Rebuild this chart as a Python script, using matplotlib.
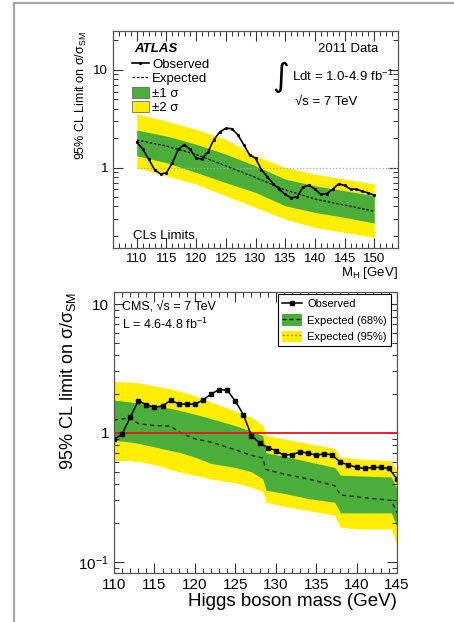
import numpy as np
import matplotlib
matplotlib.use("Agg")
import matplotlib.pyplot as plt
import matplotlib.ticker as mticker
from matplotlib.lines import Line2D
from matplotlib.patches import Patch

plt.rcParams["font.family"] = ["Liberation Sans", "DejaVu Sans"]
plt.rcParams["mathtext.fontset"] = "custom"
plt.rcParams["mathtext.rm"] = "Liberation Sans"
plt.rcParams["mathtext.it"] = "Liberation Sans:italic"
plt.rcParams["mathtext.bf"] = "Liberation Sans:bold"
plt.rcParams["mathtext.default"] = "regular"

GREEN = "#4cae3a"
YELLOW = "#ffee00"

# ── ATLAS 2011 combined limit ─────────────────────────────────────────
atlas_mass = [110, 111, 112, 113, 114, 115, 116, 117, 118, 119, 120, 121, 122, 123,
              124, 125, 126, 127, 128, 129, 130, 131, 132, 133, 134, 135, 136, 137,
              138, 139, 140, 141, 142, 143, 144, 145, 146, 147, 148, 149, 150]
atlas_obs = [1.82, 1.55, 1.22, 0.95, 0.86, 0.88, 1.12, 1.53, 1.72, 1.53, 1.25, 1.22,
             1.45, 1.93, 2.32, 2.52, 2.50, 2.17, 1.72, 1.35, 1.24, 0.95, 0.80, 0.68,
             0.60, 0.53, 0.49, 0.50, 0.63, 0.66, 0.60, 0.53, 0.54, 0.60, 0.68, 0.655,
             0.60, 0.60, 0.57, 0.55, 0.52]

atlas_band_mass = [110, 115, 120, 125, 130, 135, 140, 145, 150]
atlas_exp = [1.91, 1.66, 1.36, 1.04, 0.79, 0.59, 0.475, 0.413, 0.356]
atlas_p1 = [2.42, 2.10, 1.73, 1.37, 1.04, 0.76, 0.65, 0.578, 0.514]
atlas_m1 = [1.32, 1.12, 0.89, 0.70, 0.556, 0.406, 0.347, 0.309, 0.27]
atlas_p2 = [3.56, 2.99, 2.46, 1.95, 1.32, 1.00, 0.855, 0.76, 0.676]
atlas_m2 = [1.00, 0.82, 0.676, 0.514, 0.39, 0.297, 0.244, 0.217, 0.193]

# ── CMS 2011 combined limit ───────────────────────────────────────────
cms_mass = list(range(110, 146))
cms_obs = [0.89, 0.98, 1.32, 1.77, 1.66, 1.58, 1.62, 1.79, 1.68, 1.67, 1.67, 1.80,
           2.00, 2.17, 2.14, 1.77, 1.39, 0.95, 0.84, 0.77, 0.73, 0.67, 0.68, 0.71,
           0.70, 0.67, 0.69, 0.675, 0.59, 0.567, 0.54, 0.53, 0.54, 0.54, 0.53, 0.44]

cms_band_mass = [110, 112, 113, 115, 117, 118, 120, 122, 125, 127, 128.4, 128.8,
                 131, 134, 137.3, 138, 140, 142, 144.3, 145]
cms_exp = [1.26, 1.31, 1.18, 1.14, 1.13, 1.02, 0.90, 0.85, 0.74, 0.67, 0.64, 0.52,
           0.48, 0.44, 0.39, 0.33, 0.32, 0.31, 0.30, 0.24]
cms_p1 = [1.80, 1.74, 1.70, 1.62, 1.55, 1.50, 1.40, 1.29, 1.14, 1.03, 0.95, 0.70,
          0.66, 0.60, 0.54, 0.47, 0.465, 0.46, 0.455, 0.37]
cms_m1 = [0.88, 0.85, 0.83, 0.78, 0.73, 0.71, 0.65, 0.58, 0.54, 0.50, 0.44, 0.36,
          0.34, 0.31, 0.29, 0.24, 0.24, 0.24, 0.24, 0.186]
cms_p2 = [2.50, 2.48, 2.45, 2.32, 2.20, 2.12, 1.95, 1.74, 1.48, 1.32, 1.15, 0.96,
          0.90, 0.83, 0.76, 0.65, 0.63, 0.62, 0.61, 0.50]
cms_m2 = [0.61, 0.61, 0.60, 0.57, 0.52, 0.50, 0.47, 0.44, 0.41, 0.38, 0.35, 0.29,
          0.27, 0.25, 0.23, 0.186, 0.18, 0.18, 0.18, 0.134]


def root_style(ax, labelsize):
    """Inward ticks on all four sides, log y with minor ticks."""
    ax.set_yscale("log")
    ax.xaxis.set_major_locator(mticker.MultipleLocator(5))
    ax.xaxis.set_minor_locator(mticker.MultipleLocator(1))
    ax.yaxis.set_major_locator(mticker.LogLocator(base=10))
    ax.yaxis.set_minor_locator(mticker.LogLocator(base=10, subs=np.arange(2, 10)))
    ax.yaxis.set_minor_formatter(mticker.NullFormatter())
    ax.tick_params(which="both", direction="in", top=True, right=True,
                   labelsize=labelsize, colors="#333333", labelcolor="black")
    ax.tick_params(which="major", length=7, width=0.8)
    ax.tick_params(which="minor", length=3.5, width=0.7)
    for sp in ax.spines.values():
        sp.set_color("#555555")
        sp.set_linewidth(0.9)


fig = plt.figure(figsize=(4.54, 6.22), dpi=100)

# thin gray page frame
fig.add_artist(Line2D([0.0308, 0.0308], [0, 0.9952], color="#a8a8a8", lw=1.6))
fig.add_artist(Line2D([0.0308, 1.0], [0.9952, 0.9952], color="#a8a8a8", lw=1.6))

# ── ATLAS panel ───────────────────────────────────────────────────────
ax1 = fig.add_axes([0.2489, 0.6013, 0.6278, 0.3489])
ax1.fill_between(atlas_band_mass, atlas_m2, atlas_p2, color=YELLOW, lw=0)
ax1.fill_between(atlas_band_mass, atlas_m1, atlas_p1, color=GREEN, lw=0)
ax1.plot([110, 154], [1, 1], color="#aaaaaa", lw=0.9, ls=":")
ax1.plot(atlas_band_mass, atlas_exp, color="black", lw=0.9, ls=(0, (2, 1.5)))
ax1.plot(atlas_mass, atlas_obs, color="black", lw=1.2, marker=".", ms=2.5)
ax1.set_xlim(106, 154)
ax1.set_ylim(0.15, 25)
root_style(ax1, 9.5)
ax1.yaxis.set_major_formatter(mticker.FuncFormatter(lambda v, p: f"{v:g}"))
ax1.set_ylabel("95% CL Limit on σ/σ$_{SM}$", fontsize=9, loc="top", labelpad=3)
ax1.set_xlabel("M$_{H}$ [GeV]", fontsize=9.5, loc="right", labelpad=0)

ax1.text(0.075, 0.915, "ATLAS", transform=ax1.transAxes, fontsize=9.5,
         fontweight="bold", fontstyle="italic", va="center")
ax1.text(0.93, 0.915, "2011 Data", transform=ax1.transAxes, fontsize=9.5,
         ha="right", va="center")
ax1.text(0.56, 0.785, "∫", transform=ax1.transAxes, fontsize=23,
         ha="left", va="center", family="DejaVu Sans")
ax1.text(0.627, 0.79, "Ldt = 1.0-4.9 fb$^{-1}$", transform=ax1.transAxes,
         fontsize=9.5, va="center")
ax1.text(0.64, 0.675, "√s = 7 TeV", transform=ax1.transAxes, fontsize=9.5,
         va="center")
ax1.text(0.07, 0.055, "CLs Limits", transform=ax1.transAxes, fontsize=9.5,
         va="center")

atlas_handles = [
    Line2D([], [], color="black", lw=1.2, marker=".", ms=2.5),
    Line2D([], [], color="black", lw=0.9, ls=(0, (2, 1.5))),
    Patch(facecolor=GREEN, edgecolor="#555555", lw=0.5),
    Patch(facecolor=YELLOW, edgecolor="#555555", lw=0.5),
]
ax1.legend(atlas_handles, ["Observed", "Expected", "±1 σ", "±2 σ"],
           loc="upper left", bbox_to_anchor=(0.065, 0.875), frameon=False,
           fontsize=9.5, handlelength=1.3, handleheight=0.9, handletextpad=0.25,
           labelspacing=0.1, borderpad=0, borderaxespad=0)

# ── CMS panel ─────────────────────────────────────────────────────────
ax2 = fig.add_axes([0.2511, 0.0788, 0.6233, 0.4518])
ax2.fill_between(cms_band_mass, cms_m2, cms_p2, color=YELLOW, lw=0)
ax2.fill_between(cms_band_mass, cms_m1, cms_p1, color=GREEN, lw=0)
ax2.plot(cms_band_mass, cms_exp, color="#222222", lw=1.0, ls=(0, (3, 2.5)))
ax2.axhline(1, color="#e8141c", lw=1.3)
ax2.plot(cms_mass, cms_obs, color="black", lw=1.1, marker="s", ms=3.2)
ax2.set_xlim(110, 145)
ax2.set_ylim(0.082, 12.4)
root_style(ax2, 11)
ax2.yaxis.set_major_locator(mticker.FixedLocator([0.1, 1, 10]))
ax2.yaxis.set_major_formatter(mticker.FixedFormatter(["10$^{-1}$", "1", "10"]))
ax2.set_ylabel("95% CL limit on σ/σ$_{SM}$", fontsize=13, loc="top", labelpad=0)
ax2.set_xlabel("Higgs boson mass (GeV)", fontsize=13.5, loc="right", labelpad=1)

ax2.text(0.03, 0.95, "CMS, √s = 7 TeV", transform=ax2.transAxes, fontsize=9,
         va="center")
ax2.text(0.03, 0.885, "L = 4.6-4.8 fb$^{-1}$", transform=ax2.transAxes,
         fontsize=9, va="center")

cms_handles = [
    Line2D([], [], color="black", lw=1.1, marker="s", ms=3.2),
    (Patch(facecolor=GREEN, lw=0),
     Line2D([], [], color="#222222", lw=1.0, ls=(0, (3, 2)))),
    (Patch(facecolor=YELLOW, lw=0),
     Line2D([], [], color="#8a8a20", lw=1.0, ls=(0, (1.5, 1.5)))),
]
leg = ax2.legend(cms_handles, ["Observed", "Expected (68%)", "Expected (95%)"],
                 loc="upper right", bbox_to_anchor=(0.979, 0.993), fontsize=8,
                 fancybox=False, edgecolor="black", framealpha=1,
                 handlelength=1.8, handleheight=1.2, handletextpad=0.5,
                 labelspacing=0.45, borderpad=0.35, borderaxespad=0)
leg.get_frame().set_linewidth(0.8)

fig.savefig("out.png", dpi=100)
